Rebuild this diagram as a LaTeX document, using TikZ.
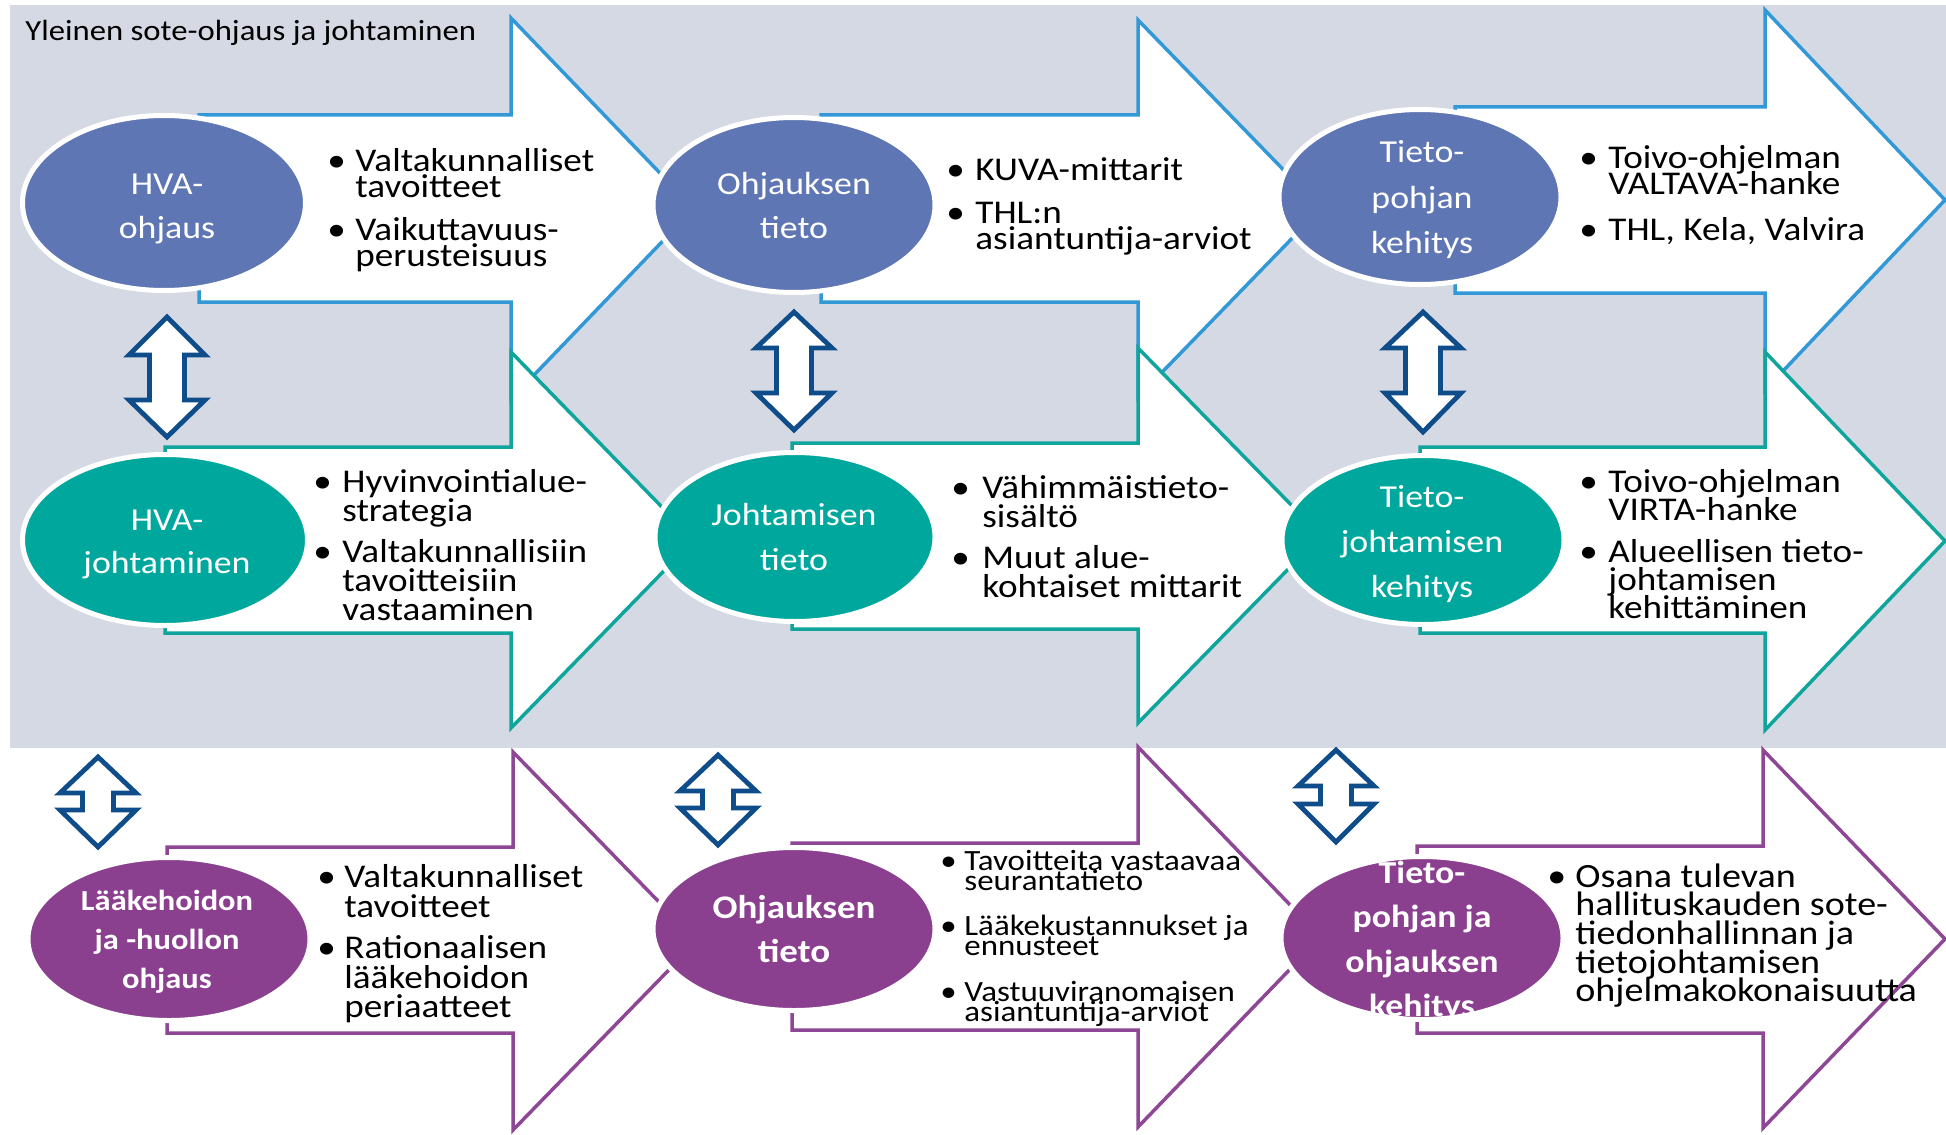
\documentclass[tikz,border=0pt]{standalone}
\usepackage{fontspec}
\setmainfont{Carlito}[FakeStretch=1.12]
\usetikzlibrary{shapes.geometric}

\definecolor{bgGrey}{HTML}{D4D9E4}
\definecolor{lineBlue}{HTML}{3398D6}
\definecolor{ellBlue}{HTML}{5F76B4}
\definecolor{tealC}{HTML}{00A79D}
\definecolor{lineTeal}{HTML}{10A59C}
\definecolor{purpleC}{HTML}{8B3F8F}
\definecolor{linePurple}{HTML}{8E4795}
\definecolor{dblBlue}{HTML}{0E4C8A}

% stacked lines with a fixed baseline distance
\newcommand\leftlines[2]{\vtop{\baselineskip=#1\relax\lineskiplimit=-\maxdimen\lineskip=0pt\halign{##\hfil\cr#2\crcr}}}
\newcommand\centerlines[2]{\vtop{\baselineskip=#1\relax\lineskiplimit=-\maxdimen\lineskip=0pt\halign{\hfil##\hfil\cr#2\crcr}}}

% block arrow: style, x0, shaft top, shaft bottom, head x, head top, head bottom, tip x
\newcommand\blockarrow[8]{\draw[blk,#1] (#2,#3) -- (#5,#3) -- (#5,#6) -- (#8,{(#6+#7)/2}) -- (#5,#7) -- (#5,#4) -- (#2,#4) -- cycle;}
% vertical double arrow: cx, top tip, upper head base, lower head base, bottom tip, head half width, shaft half width
\newcommand\dblarrow[7]{\draw[dbl] (#1,#2) -- (#1+#6,#3) -- (#1+#7,#3) -- (#1+#7,#4) -- (#1+#6,#4) -- (#1,#5) -- (#1-#6,#4) -- (#1-#7,#4) -- (#1-#7,#3) -- (#1-#6,#3) -- cycle;}

\tikzset{
  blk/.style={fill=white, line width=1.75pt, line join=miter},
  ell/.style={ellipse, draw=white, line width=2.5pt, inner sep=0pt, outer sep=0pt},
  dbl/.style={fill=white, draw=dblBlue, line width=2.4pt, line join=miter},
  etxt/.style={text=white, inner sep=0pt, anchor=base},
  body/.style={text=black, inner sep=0pt, anchor=base west, font=\fontsize{16.6}{20}\selectfont},
  small/.style={text=black, inner sep=0pt, anchor=base west, font=\fontsize{14.7}{17}\selectfont},
  mid/.style={text=black, inner sep=0pt, anchor=base west, font=\fontsize{17}{20}\selectfont},
}

\begin{document}
\begin{tikzpicture}[x=0.5pt,y=-0.5pt]
\useasboundingbox (0,0) rectangle (1946,1134);
\fill[white] (0,0) rectangle (1946,1134);
\fill[bgGrey] (10,5) rectangle (1946,748);

\node[inner sep=0pt, anchor=base west, font=\fontsize{14.6}{17}\selectfont] (title) at (25,41) {Yleinen sote-ohjaus ja johtaminen};

% upper row of arrows
\blockarrow{draw=lineBlue}{199}{115}{302}{511}{18}{399}{694}
\blockarrow{draw=lineBlue}{821}{115}{302}{1138}{20}{397}{1321}
\blockarrow{draw=lineBlue}{1455}{107}{293}{1765}{10}{390}{1945}
% middle row of arrows
\blockarrow{draw=lineTeal}{165}{447}{633}{511}{352}{728}{694}
\blockarrow{draw=lineTeal}{792}{443}{629}{1138}{348}{723}{1321}
\blockarrow{draw=lineTeal}{1420}{447}{633}{1765}{352}{730}{1945}
% lower row of arrows
\blockarrow{draw=linePurple}{167}{847}{1033}{513}{752}{1130}{697}
\blockarrow{draw=linePurple}{792}{843}{1030}{1138}{747}{1127}{1321}
\blockarrow{draw=linePurple}{1417}{846}{1033}{1763}{750}{1128}{1945}

% ellipses
\node[ell, fill=ellBlue, minimum width=141.5pt, minimum height=87.5pt] (e1) at (164,203) {};
\node[ell, fill=ellBlue, minimum width=141pt, minimum height=87.5pt] (e2) at (794,205) {};
\node[ell, fill=ellBlue, minimum width=141pt, minimum height=87.5pt] (e3) at (1420,197) {};
\node[ell, fill=tealC, minimum width=142.5pt, minimum height=85.5pt] (e4) at (165,540) {};
\node[ell, fill=tealC, minimum width=140pt, minimum height=84.5pt] (e5) at (795,537) {};
\node[ell, fill=tealC, minimum width=141pt, minimum height=84.5pt] (e6) at (1423,540) {};
\node[ell, fill=purpleC, minimum width=141pt, minimum height=81.5pt] (e7) at (169,939) {};
\node[ell, fill=purpleC, minimum width=141pt, minimum height=81.5pt] (e8) at (794,929) {};
\node[ell, fill=purpleC, minimum width=141pt, minimum height=81.5pt] (e9) at (1422,938) {};

% double arrows between the rows
\dblarrow{167}{317}{355}{400}{437}{38}{17.5}
\dblarrow{794}{312}{348}{393}{430}{38}{17.5}
\dblarrow{1423}{312}{348}{393}{432}{38}{17.5}
\dblarrow{98}{757}{793}{810}{847}{38}{15.5}
\dblarrow{718}{755}{791}{808}{845}{38}{15.5}
\dblarrow{1336}{750}{786}{804}{842}{38}{15.5}

% ellipse labels
\node[etxt, font=\fontsize{16}{19}\selectfont] (l1) at (167,195) {\centerlines{21.5pt}{HVA-\cr ohjaus}};
\node[etxt, font=\fontsize{16}{19}\selectfont] (l2) at (794,195) {\centerlines{21.5pt}{Ohjauksen\cr tieto}};
\node[etxt, font=\fontsize{16}{19}\selectfont] (l3) at (1422,163) {\centerlines{22.5pt}{Tieto-\cr pohjan\cr kehitys}};
\node[etxt, font=\fontsize{16}{19}\selectfont] (l4) at (167,530) {\centerlines{21.5pt}{HVA-\cr johtaminen}};
\node[etxt, font=\fontsize{16}{19}\selectfont] (l5) at (794,525) {\centerlines{22.5pt}{Johtamisen\cr tieto}};
\node[etxt, font=\fontsize{16}{19}\selectfont] (l6) at (1422,507) {\centerlines{22.5pt}{Tieto-\cr johtamisen\cr kehitys}};
\node[etxt, font=\bfseries\fontsize{14.5}{17}\selectfont] (l7) at (167,910) {\centerlines{19.5pt}{Lääkehoidon\cr ja -huollon\cr ohjaus}};
\node[etxt, font=\bfseries\fontsize{16.5}{19}\selectfont] (l8) at (794,918) {\centerlines{22pt}{Ohjauksen\cr tieto}};
\node[etxt, font=\bfseries\fontsize{16}{19}\selectfont] (l9) at (1422,883) {\centerlines{22.3pt}{Tieto-\cr pohjan ja\cr ohjauksen\cr kehitys}};

% upper row bullet texts
\node[body] (b1a) at (327,172) {•};
\node[body] (t1a) at (355,172) {\leftlines{13pt}{Valtakunnalliset\cr tavoitteet}};
\node[body] (b1b) at (327,241) {•};
\node[body] (t1b) at (355,241) {\leftlines{13pt}{Vaikuttavuus-\cr perusteisuus}};
\node[body] (b2a) at (946,180.5) {•};
\node[body] (t2a) at (975,180.5) {KUVA-mittarit};
\node[body] (b2b) at (946,223.5) {•};
\node[body] (t2b) at (975,223.5) {\leftlines{13pt}{THL:n\cr asiantuntija-arviot}};
\node[body] (b3a) at (1579,168.5) {•};
\node[body] (t3a) at (1608,168.5) {\leftlines{13pt}{Toivo-ohjelman\cr VALTAVA-hanke}};
\node[body] (b3b) at (1579,240.5) {•};
\node[body] (t3b) at (1608,240.5) {THL, Kela, Valvira};

% middle row bullet texts
\node[body] (b4a) at (313,492.5) {•};
\node[body] (t4a) at (342,492.5) {\leftlines{14.5pt}{Hyvinvointialue-\cr strategia}};
\node[body] (b4b) at (313,562.5) {•};
\node[body] (t4b) at (342,562.5) {\leftlines{14.5pt}{Valtakunnallisiin\cr tavoitteisiin\cr vastaaminen}};
\node[body] (b5a) at (951,498.5) {•};
\node[body] (t5a) at (982,498.5) {\leftlines{14.5pt}{Vähimmäistieto-\cr sisältö}};
\node[body] (b5b) at (951,568.5) {•};
\node[body] (t5b) at (982,568.5) {\leftlines{14.5pt}{Muut alue-\cr kohtaiset mittarit}};
\node[body] (b6a) at (1579,492.5) {•};
\node[body] (t6a) at (1608,492.5) {\leftlines{14pt}{Toivo-ohjelman\cr VIRTA-hanke}};
\node[body] (b6b) at (1579,562.5) {•};
\node[body] (t6b) at (1608,562.5) {\leftlines{14pt}{Alueellisen tieto-\cr johtamisen\cr kehittäminen}};

% lower row bullet texts
\node[body] (b7a) at (317,887.5) {•};
\node[body] (t7a) at (344,887.5) {\leftlines{14.75pt}{Valtakunnalliset\cr tavoitteet}};
\node[body] (b7b) at (317,958.5) {•};
\node[body] (t7b) at (344,958.5) {\leftlines{14.75pt}{Rationaalisen\cr lääkehoidon\cr periaatteet}};
\node[small] (b8a) at (940,870) {•};
\node[small] (t8a) at (964,870) {\leftlines{10pt}{Tavoitteita vastaavaa\cr seurantatieto}};
\node[small] (b8b) at (940,935) {•};
\node[small] (t8b) at (964,935) {\leftlines{10pt}{Lääkekustannukset ja\cr ennusteet}};
\node[small] (b8c) at (940,1001) {•};
\node[small] (t8c) at (964,1001) {\leftlines{10pt}{Vastuuviranomaisen\cr asiantuntija-arviot}};
\node[mid] (b9a) at (1547,887) {•};
\node[mid] (t9a) at (1575,887) {\leftlines{14.35pt}{Osana tulevan\cr hallituskauden sote-\cr tiedonhallinnan ja\cr tietojohtamisen\cr ohjelmakokonaisuutta}};
\end{tikzpicture}
\end{document}
